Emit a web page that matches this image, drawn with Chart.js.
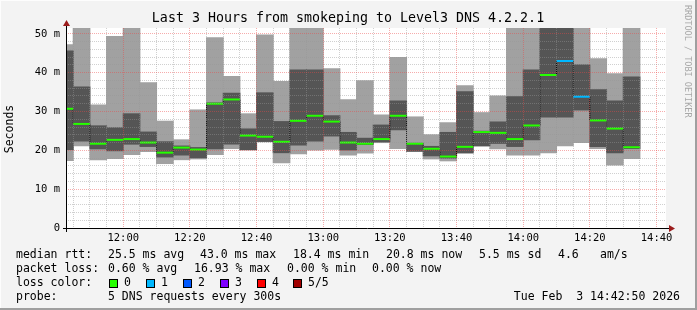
<!DOCTYPE html>
<html>
<head>
<meta charset="utf-8">
<script src="https://cdn.jsdelivr.net/npm/chart.js@4.4.1/dist/chart.umd.min.js"></script>
<style>
  html, body { margin: 0; padding: 0; background: #f3f3f3; }
  canvas { display: block; }
</style>
</head>
<body>
<canvas id="myChart" width="697" height="310"></canvas>
<script>
'use strict';

// one entry per 5 minute step, stamped with the end of the step
let stepEnds = ['11:45', '11:50', '11:55', '12:00', '12:05', '12:10', '12:15', '12:20', '12:25', '12:30',
  '12:35', '12:40', '12:45', '12:50', '12:55', '13:00', '13:05', '13:10', '13:15', '13:20',
  '13:25', '13:30', '13:35', '13:40', '13:45', '13:50', '13:55', '14:00', '14:05', '14:10',
  '14:15', '14:20', '14:25', '14:30', '14:35'];

// sorted pings (ms): lowest, 2nd, median, 4th, highest
let pingMin = [17.4, 21.2, 17.6, 17.9, 18.9, 19.7, 16.6, 17.6, 17.8, 18.9,
  20.5, 20.1, 22.2, 16.8, 19.1, 20.1, 20.3, 18.8, 19.3, 22.0,
  20.5, 19.7, 17.8, 17.3, 19.3, 21.1, 20.4, 18.8, 18.8, 19.4,
  21.2, 22.0, 20.5, 16.2, 17.9];
let ping2 = [20.2, 22.4, 20.4, 19.9, 21.6, 21.0, 18.3, 18.8, 18.1, 20.4,
  21.6, 20.2, 22.3, 19.4, 21.4, 22.4, 23.7, 20.1, 21.5, 22.2,
  25.3, 19.8, 18.6, 18.0, 19.4, 21.2, 21.8, 21.0, 22.7, 28.6,
  28.6, 30.4, 21.0, 19.4, 20.5];
let medianRtt = [30.7, 26.8, 21.7, 22.7, 22.9, 22.0, 19.4, 20.7, 20.2, 32.0,
  33.1, 23.8, 23.5, 22.2, 27.6, 28.9, 27.4, 22.0, 21.7, 22.9,
  28.9, 21.7, 20.4, 18.4, 20.9, 24.7, 24.5, 22.9, 26.4, 39.4,
  43.0, 33.8, 27.7, 25.6, 20.8];
let ping4 = [45.6, 36.3, 26.3, 25.8, 29.4, 24.7, 22.2, 21.1, 20.7, 32.2,
  34.7, 25.5, 34.8, 27.4, 40.7, 40.7, 28.9, 24.6, 23.1, 26.5,
  32.7, 21.8, 21.0, 24.6, 35.1, 24.9, 27.3, 33.8, 40.7, 53.0,
  54.0, 42.0, 35.6, 32.7, 38.9];
let pingMax = [47.2, 55.0, 31.7, 49.3, 55.0, 37.4, 27.5, 22.7, 30.4, 49.0,
  39.0, 29.4, 49.7, 37.7, 55.0, 55.0, 41.0, 33.0, 37.9, 29.1,
  43.9, 28.6, 24.0, 27.1, 36.6, 29.7, 34.0, 55.0, 55.0, 58.0,
  58.0, 55.0, 43.6, 39.7, 55.0];
let lostPings = [0, 0, 0, 0, 0, 0, 0, 0, 0, 0,
  0, 0, 0, 0, 0, 0, 0, 0, 0, 0,
  0, 0, 0, 0, 0, 0, 0, 0, 0, 0,
  1, 1, 0, 0, 0];

let startTime = '11:42:50';
let endTime = '14:42:50';
let stepMinutes = 5;

let xTickLabels = ['12:00', '12:20', '12:40', '13:00', '13:20', '13:40', '14:00', '14:20', '14:40'];
let yTickValues = [0, 10, 20, 30, 40, 50];
let yTickLabels = ['0', '10 m', '20 m', '30 m', '40 m', '50 m'];
let yMax = 51.5;

let lossColors = ['#26ff00', '#00b8ff', '#0059ff', '#7e00ff', '#ff0000', '#a10000'];
let lossLabels = ['0', '1', '2', '3', '4', '5/5'];

let titleText = 'Last 3 Hours from smokeping to Level3 DNS 4.2.2.1';
let rttStats = ['median rtt:', '25.5 ms avg', '43.0 ms max', '18.4 ms min', '20.8 ms now', '5.5 ms sd', '4.6', 'am/s'];
let lossStats = ['packet loss:', '0.60 % avg', '16.93 % max', '0.00 % min', '0.00 % now'];
let probeText = ['probe:', '5 DNS requests every 300s'];
let dateText = 'Tue Feb  3 14:42:50 2026';

// helpers

function toMinutes(str) {
  let parts = str.split(':').map(Number);
  return parts[0] * 60 + parts[1] + (parts[2] || 0) / 60;
}

function fmtTime(value) {
  let h = Math.floor(value / 60);
  let m = Math.round(value - h * 60);
  return h + ':' + String(m).padStart(2, '0');
}

let lightBars = [];
let darkBars = [];
let medianSteps = [];
let medianMarks = [];

for (let i = 0; i < stepEnds.length; i++) {
  let end = toMinutes(stepEnds[i]);
  let start = end - stepMinutes;
  let mid = end - stepMinutes / 2;
  lightBars.push({x: mid, y: [pingMin[i], pingMax[i]]});
  darkBars.push({x: mid, y: [ping2[i], ping4[i]]});
  medianSteps.push({x: start, y: medianRtt[i]});
  medianMarks.push({x: start, y: medianRtt[i]});
  medianMarks.push({x: end, y: medianRtt[i]});
  medianMarks.push({x: end, y: null});
}
let lastIdx = stepEnds.length - 1;
medianSteps.push({x: toMinutes(stepEnds[lastIdx]), y: medianRtt[lastIdx]});

let minorGrid = 'rgba(150, 150, 150, 0.45)';
let majorGrid = 'rgba(235, 70, 70, 0.45)';
let monoFont = '"DejaVu Sans Mono", monospace';

// background, frame, axes and texts
let rrdLook = {
  id: 'rrdLook',
  beforeDraw(chart) {
    let ctx = chart.ctx;
    let a = chart.chartArea;
    ctx.save();
    ctx.fillStyle = '#f3f3f3';
    ctx.fillRect(0, 0, chart.width, chart.height);
    ctx.fillStyle = '#fdfdfd';
    ctx.fillRect(0, 0, chart.width, 1);
    ctx.fillRect(0, 0, 1, chart.height);
    ctx.fillStyle = '#9f9f9f';
    ctx.fillRect(chart.width - 2, 0, 2, chart.height);
    ctx.fillRect(0, chart.height - 2, chart.width, 2);
    ctx.fillStyle = '#ffffff';
    ctx.fillRect(a.left, a.top, a.right - a.left, a.bottom - a.top);
    ctx.restore();
  },
  afterDraw(chart) {
    let ctx = chart.ctx;
    let a = chart.chartArea;
    ctx.save();

    // axes with arrows
    ctx.strokeStyle = '#000';
    ctx.lineWidth = 1;
    ctx.beginPath();
    ctx.moveTo(a.left - 3, a.bottom + 0.5);
    ctx.lineTo(a.right + 6, a.bottom + 0.5);
    ctx.moveTo(a.left + 0.5, a.bottom + 4);
    ctx.lineTo(a.left + 0.5, a.top - 3);
    ctx.stroke();
    ctx.fillStyle = '#9b1c1c';
    ctx.beginPath();
    ctx.moveTo(a.right + 3, a.bottom - 3);
    ctx.lineTo(a.right + 9, a.bottom + 0.5);
    ctx.lineTo(a.right + 3, a.bottom + 4);
    ctx.closePath();
    ctx.fill();
    ctx.beginPath();
    ctx.moveTo(a.left - 3, a.top - 2);
    ctx.lineTo(a.left + 0.5, a.top - 8);
    ctx.lineTo(a.left + 4, a.top - 2);
    ctx.closePath();
    ctx.fill();

    // title
    ctx.fillStyle = '#000';
    ctx.textBaseline = 'middle';
    ctx.textAlign = 'center';
    ctx.font = '13.3px ' + monoFont;
    ctx.fillText(titleText, 348, 19);

    // y unit
    ctx.font = '11.5px ' + monoFont;
    ctx.save();
    ctx.translate(10, 129);
    ctx.rotate(-Math.PI / 2);
    ctx.fillText('Seconds', 0, 0);
    ctx.restore();

    // watermark
    ctx.save();
    ctx.fillStyle = '#a8a8a8';
    ctx.font = '8.5px ' + monoFont;
    ctx.translate(687, 5);
    ctx.rotate(Math.PI / 2);
    ctx.textAlign = 'left';
    ctx.fillText('RRDTOOL / TOBI OETIKER', 0, 0);
    ctx.restore();

    // legend lines
    ctx.textAlign = 'left';
    ctx.font = '11.5px ' + monoFont;
    let rttX = [16, 108, 200, 293, 386, 479, 558, 600];
    rttStats.forEach((t, i) => ctx.fillText(t, rttX[i], 255));
    let lossX = [16, 108, 194, 287, 372];
    lossStats.forEach((t, i) => ctx.fillText(t, lossX[i], 269));
    ctx.fillText('loss color:', 16, 283);
    let boxX = [109, 146, 183, 220, 257, 293];
    lossLabels.forEach((t, i) => {
      ctx.fillStyle = lossColors[i];
      ctx.fillRect(boxX[i], 279, 9, 9);
      ctx.strokeStyle = '#000';
      ctx.strokeRect(boxX[i] + 0.5, 279.5, 8, 8);
      ctx.fillStyle = '#000';
      ctx.fillText(t, boxX[i] + 15, 283);
    });
    ctx.fillText(probeText[0], 16, 297);
    ctx.fillText(probeText[1], 108, 297);
    ctx.textAlign = 'right';
    ctx.fillText(dateText, 680, 297);
    ctx.restore();
  }
};

let chartObject = {
  type: 'bar',
  data: {
    datasets: [
      {
        label: 'spread',
        data: lightBars,
        backgroundColor: '#a1a1a1',
        borderWidth: 0,
        grouped: false,
        barPercentage: 1,
        categoryPercentage: 1,
        inflateAmount: 0.5,
        clip: 0,
        order: 4
      },
      {
        label: 'inner',
        data: darkBars,
        backgroundColor: '#555555',
        borderWidth: 0,
        grouped: false,
        barPercentage: 1,
        categoryPercentage: 1,
        inflateAmount: 0.5,
        clip: 0,
        order: 3
      },
      {
        type: 'line',
        label: 'steps',
        data: medianSteps,
        stepped: true,
        borderColor: '#000',
        borderWidth: 1,
        borderDash: [1, 1],
        pointRadius: 0,
        fill: false,
        clip: 0,
        order: 2
      },
      {
        type: 'line',
        label: 'median',
        data: medianMarks,
        borderColor: lossColors[0],
        borderWidth: 2,
        pointRadius: 0,
        fill: false,
        spanGaps: false,
        clip: 0,
        order: 1,
        segment: {
          borderColor: ctx => lossColors[lostPings[Math.floor(ctx.p0DataIndex / 3)]]
        }
      }
    ]
  },
  options: {
    responsive: false,
    animation: false,
    devicePixelRatio: 1,
    layout: { padding: { top: 28, right: 31, left: 0, bottom: 0 } },
    plugins: {
      legend: { display: false },
      tooltip: { enabled: false },
      title: { display: false }
    },
    scales: {
      x: {
        type: 'linear',
        min: toMinutes(startTime),
        max: toMinutes(endTime),
        offset: false,
        border: { display: false, dash: [1, 1] },
        grid: {
          offset: false,
          z: 1,
          drawTicks: false,
          color: ctx => xTickLabels.includes(fmtTime(ctx.tick.value)) ? majorGrid : minorGrid
        },
        afterBuildTicks: scale => {
          let ticks = [];
          for (let t = Math.ceil(scale.min / stepMinutes) * stepMinutes; t <= scale.max; t += stepMinutes) {
            ticks.push({value: t});
          }
          scale.ticks = ticks;
        },
        afterFit: scale => { scale.height = 82; },
        ticks: {
          autoSkip: false,
          maxRotation: 0,
          padding: 4,
          color: '#000',
          font: { family: monoFont, size: 10.5 },
          callback: value => {
            let s = fmtTime(value);
            return xTickLabels.includes(s) ? s : '';
          }
        }
      },
      y: {
        type: 'linear',
        min: 0,
        max: yMax,
        border: { display: false, dash: [1, 1] },
        grid: {
          z: 1,
          drawTicks: false,
          color: ctx => yTickValues.includes(ctx.tick.value) ? majorGrid : minorGrid
        },
        afterBuildTicks: scale => {
          let ticks = [];
          for (let v = 0; v <= scale.max; v += 2) ticks.push({value: v});
          scale.ticks = ticks;
        },
        afterFit: scale => { scale.width = 66; },
        ticks: {
          autoSkip: false,
          padding: 6,
          color: '#000',
          font: { family: monoFont, size: 10.5 },
          callback: value => {
            let k = yTickValues.indexOf(value);
            return k >= 0 ? yTickLabels[k] : '';
          }
        }
      }
    }
  },
  plugins: [rrdLook]
};

let ctx = document.getElementById('myChart').getContext('2d');
let myChart = new Chart(ctx, chartObject);
</script>
</body>
</html>
